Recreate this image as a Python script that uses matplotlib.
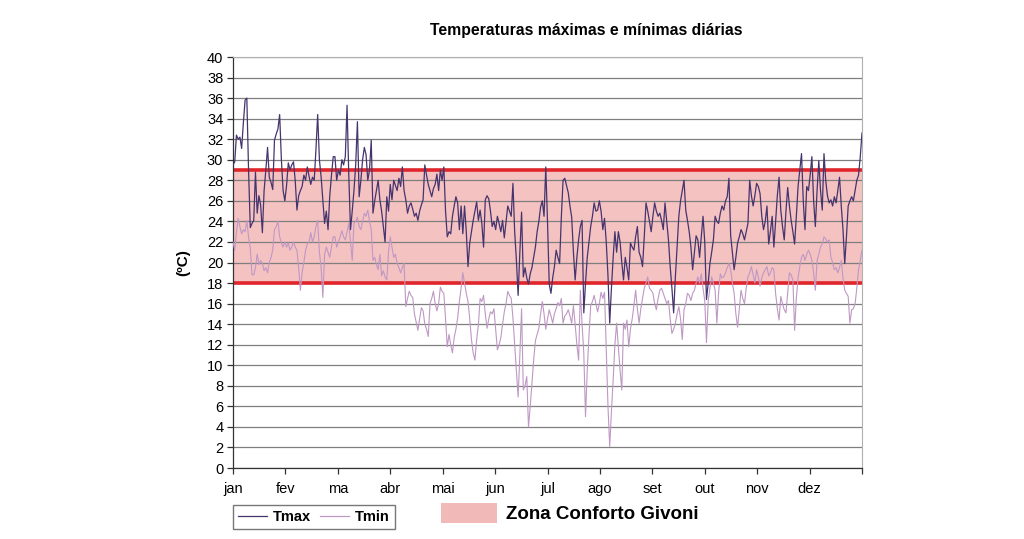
import numpy as np
import matplotlib.pyplot as plt
from matplotlib.patches import Patch
from matplotlib.lines import Line2D

plt.rcParams['font.family'] = ['Liberation Sans', 'DejaVu Sans']

meses = ["jan", "fev", "ma", "abr", "mai", "jun", "jul", "ago", "set", "out", "nov", "dez"]
conforto = (18, 29)

# temperaturas maximas diarias (mes a mes)
tmax = [
    29.5, 29.8, 32.4, 32.0, 32.2, 31.1, 33.6, 35.8, 36.0, 29.0, 23.4, 23.8, 24.1, 28.8, 24.8, 26.5,
    25.6, 22.9, 27.0, 29.0, 31.2, 28.3, 27.8, 27.1, 31.9, 32.5, 33.0, 34.4, 30.0, 27.0, 26.0,
    27.5, 29.7, 29.0, 29.5, 29.8, 28.0, 25.1, 26.5, 27.0, 27.4, 28.5, 28.0, 29.3, 28.4, 27.6, 28.3,
    28.0, 31.0, 34.4, 30.0, 28.3, 26.0, 23.8, 25.0, 23.2, 26.5, 28.5, 30.3,
    30.3, 28.0, 29.0, 28.5, 30.0, 29.5, 30.3, 35.3, 28.5, 23.2, 25.0, 27.0, 29.5, 33.7, 26.4, 28.0,
    30.0, 31.2, 30.5, 28.0, 29.0, 31.9, 24.8, 26.0, 27.0, 28.0, 26.1, 25.0, 23.5, 22.0, 26.4,
    25.0, 27.6, 26.1, 28.0, 27.5, 27.0, 28.2, 27.4, 29.3, 27.0, 26.1, 24.8, 25.5, 25.8, 25.2, 24.5,
    24.8, 24.1, 25.0, 25.6, 26.1, 29.5, 28.5, 27.6, 27.0, 26.4, 27.2, 27.6, 28.6, 27.0,
    29.0, 28.0, 29.3, 25.0, 22.5, 23.0, 22.8, 24.5, 25.5, 26.4, 25.8, 23.2, 25.5, 22.8, 25.5, 23.0,
    19.6, 21.9, 23.0, 24.1, 25.0, 25.9, 24.1, 25.1, 23.8, 21.5, 26.1, 26.5, 26.2, 25.0, 23.5,
    24.0, 23.2, 24.5, 23.8, 23.0, 24.1, 22.4, 24.0, 25.5, 25.0, 24.5, 27.7, 23.0, 20.2, 16.8, 21.0,
    24.9, 18.6, 19.5, 18.5, 17.9, 18.9, 19.5, 20.5, 21.5, 23.0, 24.0, 25.4, 26.0, 24.5,
    29.3, 24.0, 17.9, 17.0, 18.5, 19.6, 21.2, 20.5, 19.9, 24.4, 28.0, 28.2, 27.5, 26.8, 25.5, 24.4,
    21.0, 18.3, 20.5, 22.2, 23.5, 24.1, 15.1, 18.0, 20.5, 22.0, 23.5, 24.5, 25.8, 25.0, 25.1,
    26.0, 25.0, 23.2, 24.3, 22.0, 18.7, 14.1, 17.5, 20.5, 23.0, 21.0, 23.0, 22.0, 20.0, 18.3, 20.5,
    19.5, 18.3, 21.9, 21.5, 21.2, 22.5, 23.5, 21.0, 20.5, 19.6, 22.5, 25.8, 25.0, 24.0, 23.0,
    24.5, 25.8, 25.0, 24.5, 24.8, 24.1, 23.2, 25.8, 24.0, 22.2, 19.6, 17.5, 15.1, 18.6, 21.5, 24.5,
    26.0, 27.0, 28.0, 25.1, 24.1, 23.0, 21.5, 19.3, 21.0, 22.6, 22.2, 20.5, 22.5, 24.5,
    22.0, 16.4, 18.0, 19.9, 21.0, 22.2, 24.5, 24.0, 23.8, 24.8, 25.5, 25.1, 26.0, 26.4, 28.2, 22.6,
    21.0, 19.3, 20.5, 21.9, 22.5, 23.2, 22.8, 22.2, 23.0, 23.8, 28.0, 26.5, 25.5, 26.5, 27.7,
    27.4, 26.7, 24.5, 23.2, 24.0, 25.5, 21.8, 23.0, 24.5, 21.5, 24.0, 26.5, 28.3, 25.1, 23.5, 22.2,
    25.0, 27.3, 25.5, 24.1, 23.0, 21.8, 24.5, 27.4, 29.0, 30.6, 26.0, 23.2, 27.4, 27.0,
    28.5, 30.3, 26.0, 23.5, 27.0, 29.9, 27.0, 25.1, 30.6, 28.0, 26.5, 25.8, 26.1, 25.5, 26.4, 25.8,
    27.0, 28.3, 25.5, 23.2, 19.9, 22.5, 25.5, 26.0, 26.4, 26.0, 27.0, 28.0, 28.5, 30.3, 32.6,
]

# temperaturas minimas diarias
tmin = [
    22.0, 21.2, 23.0, 24.3, 23.5, 22.8, 23.2, 23.0, 24.1, 22.5, 21.4, 18.8, 18.8, 19.5, 20.8, 19.8,
    20.2, 19.9, 19.2, 19.5, 19.0, 20.0, 20.5, 21.2, 23.2, 23.5, 24.0, 22.5, 21.9, 21.5, 22.0,
    21.5, 21.9, 21.2, 21.5, 22.0, 21.5, 21.2, 19.5, 17.3, 19.0, 20.0, 21.2, 21.8, 22.0, 22.9, 22.0,
    22.5, 23.5, 24.1, 21.0, 19.5, 16.6, 20.8, 21.5, 21.0, 20.5, 21.5, 22.5,
    22.5, 21.5, 22.0, 22.5, 23.1, 22.5, 22.2, 23.0, 23.8, 22.0, 20.2, 23.8, 24.0, 24.4, 23.5, 23.2,
    24.0, 24.8, 24.5, 25.1, 24.0, 23.2, 20.2, 20.5, 19.8, 19.3, 20.8, 18.7, 19.2, 18.6, 18.3,
    21.0, 22.5, 21.5, 20.5, 20.8, 19.9, 19.5, 19.0, 19.5, 19.9, 15.7, 16.5, 17.2, 16.8, 16.6, 15.0,
    14.2, 13.4, 14.5, 15.6, 15.3, 14.0, 13.5, 12.8, 16.0, 16.5, 17.2, 16.0, 15.3, 16.0,
    17.6, 17.2, 17.0, 14.5, 11.8, 13.0, 12.0, 11.2, 12.7, 13.5, 14.6, 16.2, 17.5, 19.0, 18.0, 17.0,
    16.2, 14.5, 12.5, 11.2, 10.5, 12.5, 13.9, 16.5, 16.2, 16.8, 15.0, 13.6, 14.5, 15.2, 15.0,
    15.5, 13.5, 11.5, 12.0, 12.7, 14.0, 15.2, 16.0, 17.2, 16.8, 16.5, 14.6, 12.0, 9.5, 6.9, 11.0,
    15.5, 7.6, 8.0, 8.9, 4.0, 6.0, 8.3, 10.5, 12.4, 13.0, 13.6, 15.0, 16.2, 15.0,
    13.5, 14.5, 15.4, 14.8, 14.1, 15.0, 15.5, 16.1, 15.8, 16.5, 14.1, 14.8, 15.0, 15.4, 14.8, 14.1,
    15.8, 14.0, 12.0, 10.5, 17.3, 14.0, 11.2, 5.0, 9.5, 12.9, 15.8, 16.2, 16.8, 16.0, 15.2,
    16.0, 17.1, 16.5, 17.1, 11.5, 6.0, 2.1, 5.5, 8.6, 12.0, 14.1, 11.8, 9.5, 7.6, 14.1, 13.5,
    14.4, 11.8, 13.5, 14.5, 15.8, 17.3, 15.5, 14.1, 15.5, 16.5, 17.5, 18.0, 18.6, 17.5, 17.3,
    17.0, 16.0, 15.4, 16.5, 17.3, 17.5, 17.0, 16.5, 16.0, 16.3, 14.5, 13.1, 13.5, 14.1, 15.0, 15.7,
    14.5, 12.5, 15.4, 16.0, 17.0, 16.8, 16.3, 17.0, 17.3, 18.0, 18.6, 18.0, 18.9, 17.5,
    16.3, 12.2, 16.3, 17.5, 18.6, 18.0, 17.3, 14.1, 17.0, 18.9, 18.5, 18.6, 19.0, 19.5, 19.9, 19.3,
    18.0, 17.0, 15.0, 13.7, 15.5, 17.3, 16.5, 16.0, 17.5, 18.6, 19.0, 19.6, 18.8, 18.0, 19.3,
    18.6, 17.7, 18.5, 19.0, 19.3, 19.6, 18.7, 19.0, 19.5, 19.3, 17.0, 15.5, 14.4, 16.7, 16.0, 15.4,
    15.1, 17.0, 19.0, 18.8, 18.3, 13.4, 16.5, 18.5, 19.6, 20.5, 20.8, 20.2, 20.8, 21.2,
    20.8, 20.2, 19.0, 17.3, 20.2, 20.8, 21.5, 21.8, 22.5, 22.3, 22.0, 22.2, 20.5, 20.0, 19.3, 19.5,
    19.0, 19.5, 20.2, 18.5, 17.3, 17.0, 16.7, 14.1, 15.4, 15.5, 16.0, 17.5, 19.3, 20.2, 21.2,
]

dias = np.arange(len(tmax))
n = len(tmax)

fig = plt.figure(figsize=(10.24, 5.39), dpi=100)
ax = fig.add_axes([233 / 1024, 1 - 468 / 539, 629 / 1024, 411 / 539])

ax.axhspan(conforto[0], conforto[1], color='#f4b8b8', alpha=0.85, lw=0, zorder=0)
for y in range(0, 41, 2):
    ax.axhline(y, color='#7f7f7f', lw=0.9, zorder=1)
ax.axhline(conforto[0], color='#e0262b', lw=2.6, zorder=2)
ax.axhline(conforto[1], color='#e0262b', lw=2.6, zorder=2)

ax.plot(dias, tmin, color='#bf98c4', lw=0.8, zorder=3)
ax.plot(dias, tmax, color='#45346e', lw=0.9, zorder=4)

ax.set_xlim(0, n - 1)
ax.set_ylim(0, 40)
ax.set_yticks(range(0, 41, 2))
ax.set_yticklabels([str(v) for v in range(0, 41, 2)], fontsize=10.5)
pos = np.linspace(0, n - 1, 13)
ax.set_xticks(pos)
ax.set_xticklabels(meses + [""], fontsize=10.5)
ax.tick_params(axis='both', direction='out', length=4, width=0.9, color='#333333', pad=3)
ax.tick_params(axis='x', pad=6)

for s in ['top', 'right']:
    ax.spines[s].set_color('#b0b0b0')
    ax.spines[s].set_linewidth(0.8)
for s in ['left', 'bottom']:
    ax.spines[s].set_color('#333333')
    ax.spines[s].set_linewidth(0.9)

ax.set_ylabel("(ºC)", fontsize=11, fontweight='bold', labelpad=12)

fig.text(586 / 1024, 1 - 30 / 539, "Temperaturas máximas e mínimas diárias",
         ha='center', va='center', fontsize=11.3, fontweight='bold')

h = [Line2D([], [], color='#45346e', lw=0.9), Line2D([], [], color='#bf98c4', lw=0.9)]
leg = fig.legend(h, ["Tmax", "Tmin"], loc='center', bbox_to_anchor=(314 / 1024, 1 - 517 / 539),
                 ncol=2, frameon=True, fancybox=False, edgecolor='#555555', handlelength=2.0,
                 columnspacing=0.6, handletextpad=0.4, borderpad=0.35,
                 prop={'weight': 'bold', 'size': 10.5})
leg.get_frame().set_linewidth(1.0)

leg2 = fig.legend([Patch(facecolor='#f2b9b9', edgecolor='none')], ["Zona Conforto Givoni"],
                  loc='center', bbox_to_anchor=(570 / 1024, 1 - 513 / 539), frameon=False,
                  handlelength=3.0, handleheight=1.3, handletextpad=0.5,
                  prop={'weight': 'bold', 'size': 13.5})

fig.savefig("out.png", dpi=100)
